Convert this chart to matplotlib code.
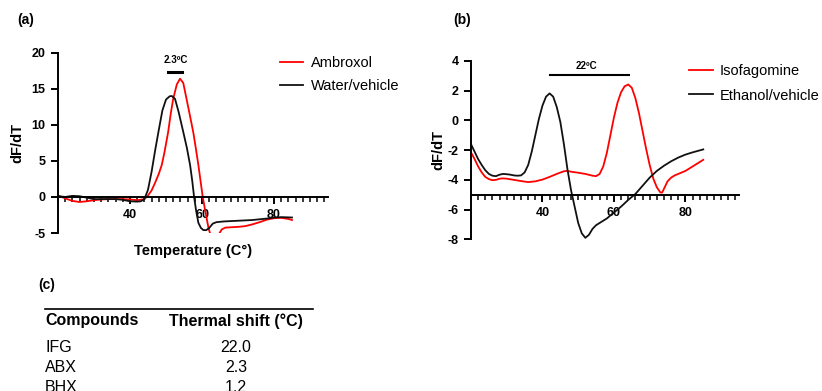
import numpy as np
import matplotlib.pyplot as plt
from matplotlib.ticker import MultipleLocator, FixedLocator

plt.rcParams['font.family'] = ['Liberation Sans', 'DejaVu Sans']
plt.rcParams['axes.unicode_minus'] = False

# ---- panel (a): Ambroxol vs water ----
a_water_x = [20, 22, 24, 26, 28, 30, 32, 34, 36, 38, 40, 42, 43, 44, 45, 46, 47, 48, 49, 50,
             51, 51.6, 52.5, 53.5, 54.8, 55.8, 56.7, 57.3, 57.8, 58.4, 59, 59.7, 60.4, 61.2,
             62, 63, 64, 66, 70, 74, 78, 80, 82, 85]
a_water_y = [0.1, 0.0, 0.15, 0.1, -0.1, -0.3, -0.3, -0.3, -0.3, -0.4, -0.6, -0.65, -0.6, -0.3,
             1.0, 3.5, 6.5, 9.3, 12.0, 13.5, 13.95, 14.0, 13.6, 11.8, 9.0, 6.8, 4.4, 2.2, 0.0,
             -2.0, -3.6, -4.3, -4.6, -4.6, -4.3, -3.7, -3.5, -3.4, -3.3, -3.2, -3.0, -2.85,
             -2.8, -2.85]

a_ambroxol_x = [20, 22, 24, 26, 28, 30, 32, 34, 36, 38, 40, 42, 44, 45, 46, 47, 48, 48.8, 49.5,
                50.6, 51.3, 52, 53, 53.9, 54.8, 55.7, 56.6, 57.6, 58.3, 59, 59.6, 60.2, 61,
                61.8, 62.5, 63.5, 64.5, 65.5, 66.5, 70, 72, 74, 76, 78, 80, 82, 84, 85]
a_ambroxol_y = [0.2, -0.2, -0.55, -0.7, -0.6, -0.45, -0.35, -0.3, -0.3, -0.3, -0.35, -0.45,
                -0.3, 0.2, 0.9, 2.0, 3.2, 4.4, 6.0, 9.0, 11.5, 13.6, 15.6, 16.4, 15.8, 13.6,
                11.4, 8.9, 6.7, 4.4, 2.2, 0.0, -2.2, -4.3, -5.5, -6.0, -5.3, -4.5, -4.25, -4.15,
                -4.05, -3.8, -3.5, -3.15, -2.95, -2.9, -3.05, -3.2]

# ---- panel (b): Isofagomine vs ethanol ----
b_ethanol_x = [20, 21, 22, 23, 24, 25, 26, 27, 28, 29, 30, 31, 32, 33, 34, 35, 36, 37, 38, 39,
               40, 41, 42, 43, 44, 45, 46, 47, 48, 49, 50, 51, 52, 53, 54, 55, 56, 58, 60, 62,
               64, 66, 68, 70, 72, 74, 76, 78, 80, 82, 85]
b_ethanol_y = [-1.6, -2.1, -2.6, -3.0, -3.35, -3.6, -3.72, -3.75, -3.65, -3.6, -3.62, -3.65,
               -3.7, -3.72, -3.7, -3.5, -3.0, -2.1, -1.0, 0.1, 1.0, 1.6, 1.82, 1.6, 0.9, -0.1,
               -1.6, -3.3, -4.7, -5.8, -6.9, -7.6, -7.9, -7.7, -7.3, -7.05, -6.9, -6.6, -6.2,
               -5.8, -5.35, -4.95, -4.4, -3.85, -3.4, -3.05, -2.75, -2.5, -2.3, -2.15, -1.95]

b_ifg_x = [20, 21, 22, 23, 24, 25, 26, 27, 28, 29, 30, 32, 34, 36, 38, 40, 42, 44, 46, 47, 48,
           50, 52, 54, 55, 56, 57, 58, 59, 60, 61, 62, 63, 64, 65, 66, 67, 68, 69, 70, 71, 72,
           73, 73.5, 74, 75, 76, 77, 78, 80, 82, 85]
b_ifg_y = [-2.15, -2.6, -3.1, -3.5, -3.8, -3.95, -4.02, -4.0, -3.92, -3.9, -3.92, -4.0, -4.08,
           -4.15, -4.1, -3.98, -3.8, -3.6, -3.42, -3.4, -3.45, -3.52, -3.6, -3.72, -3.75, -3.6,
           -3.1, -2.2, -1.0, 0.2, 1.2, 1.9, 2.3, 2.42, 2.2, 1.5, 0.5, -0.7, -1.9, -3.0, -3.9,
           -4.5, -4.85, -4.85, -4.6, -4.1, -3.85, -3.7, -3.6, -3.4, -3.1, -2.65]

# ---- panel (c): table ----
compounds = ['IFG', 'ABX', 'BHX']
shifts = ['22.0', '2.3', '1.2']

W, H = 822, 391
fig = plt.figure(figsize=(W / 100, H / 100), dpi=100)


def px_axes(x0, x1, y_top, y_bot):
    return fig.add_axes([x0 / W, 1 - y_bot / H, (x1 - x0) / W, (y_bot - y_top) / H])


def style_axes(ax, ylo, yhi, ystep, xspine_at):
    ax.set_xlim(20, 95)
    ax.set_ylim(ylo, yhi)
    for s in ['top', 'right']:
        ax.spines[s].set_visible(False)
    ax.spines['bottom'].set_position(('data', xspine_at))
    ax.spines['left'].set_linewidth(1.4)
    ax.spines['bottom'].set_linewidth(1.4)
    ax.xaxis.set_major_locator(FixedLocator([40, 60, 80]))
    ax.xaxis.set_minor_locator(MultipleLocator(2))
    ax.yaxis.set_major_locator(MultipleLocator(ystep))
    ax.tick_params(axis='both', which='major', direction='out', length=5, width=1.4,
                   labelsize=9, pad=4)
    ax.tick_params(axis='x', which='minor', direction='out', length=3.5, width=1.1)
    for lab in ax.get_xticklabels() + ax.get_yticklabels():
        lab.set_fontweight('bold')
    ax.patch.set_alpha(0)


# panel a
ax1 = px_axes(58, 328, 52.7, 233)
ax1.plot(a_ambroxol_x, a_ambroxol_y, color='#ff0000', lw=1.3, label='Ambroxol')
ax1.plot(a_water_x, a_water_y, color='#111111', lw=1.3, label='Water/vehicle')
style_axes(ax1, -5, 20, 5, 0)
ax1.set_ylabel('dF/dT', fontsize=10.5, fontweight='bold')
ax1.yaxis.set_label_coords(-0.126, 0.5)
ax1.set_xlabel('Temperature (C°)', fontsize=10.5, fontweight='bold')
ax1.xaxis.set_label_coords(0.5, -0.06)
ax1.plot([50.6, 54.4], [17.3, 17.3], color='black', lw=2.2, clip_on=False)
ax1.text(52.6, 18.3, '2.3ºC', fontsize=7, fontweight='bold', ha='center', va='bottom')
ax1.legend(loc='upper left', bbox_to_anchor=(280 / W, 1 - 56 / H), bbox_transform=fig.transFigure,
           frameon=False, fontsize=10.5, handlelength=1.6, handletextpad=0.5,
           labelspacing=0.65, borderpad=0, borderaxespad=0)

# panel b
ax2 = px_axes(471, 739, 61, 239.3)
ax2.plot(b_ifg_x, b_ifg_y, color='#ff0000', lw=1.3, label='Isofagomine')
ax2.plot(b_ethanol_x, b_ethanol_y, color='#111111', lw=1.3, label='Ethanol/vehicle')
style_axes(ax2, -8, 4, 2, -5)
ax2.set_ylabel('dF/dT', fontsize=10.5, fontweight='bold')
ax2.yaxis.set_label_coords(-0.097, 0.5)
ax2.plot([42.1, 64.1], [3.05, 3.05], color='black', lw=1.5, clip_on=False)
ax2.text(52.3, 3.35, '22ºC', fontsize=7, fontweight='bold', ha='center', va='bottom')
ax2.legend(loc='upper left', bbox_to_anchor=(689 / W, 1 - 64 / H), bbox_transform=fig.transFigure,
           frameon=False, fontsize=10.5, handlelength=1.65, handletextpad=0.45,
           labelspacing=0.72, borderpad=0, borderaxespad=0)

# panel labels
fig.text(17 / W, 1 - 20 / H, '(a)', fontsize=10, fontweight='bold', va='center')
fig.text(453 / W, 1 - 20 / H, '(b)', fontsize=10, fontweight='bold', va='center')
fig.text(38 / W, 1 - 285 / H, '(c)', fontsize=10, fontweight='bold', va='center')

# table (last row is cut by the bottom edge, as in the original)
fig.add_artist(plt.Line2D([45 / W, 313 / W], [1 - 309 / H, 1 - 309 / H], color='black', lw=1.2))
fig.text(45 / W, 1 - 321 / H, 'Compounds', fontsize=11.5, fontweight='bold', va='center')
fig.text(236 / W, 1 - 321 / H, 'Thermal shift (°C)', fontsize=11.5, fontweight='bold',
         va='center', ha='center')
for i, (c, s) in enumerate(zip(compounds, shifts)):
    y = 1 - (347 + 20 * i) / H
    fig.text(45 / W, y, c, fontsize=11.5, va='center')
    fig.text(236 / W, y, s, fontsize=11.5, va='center', ha='center')

fig.savefig('out.png', dpi=100)
